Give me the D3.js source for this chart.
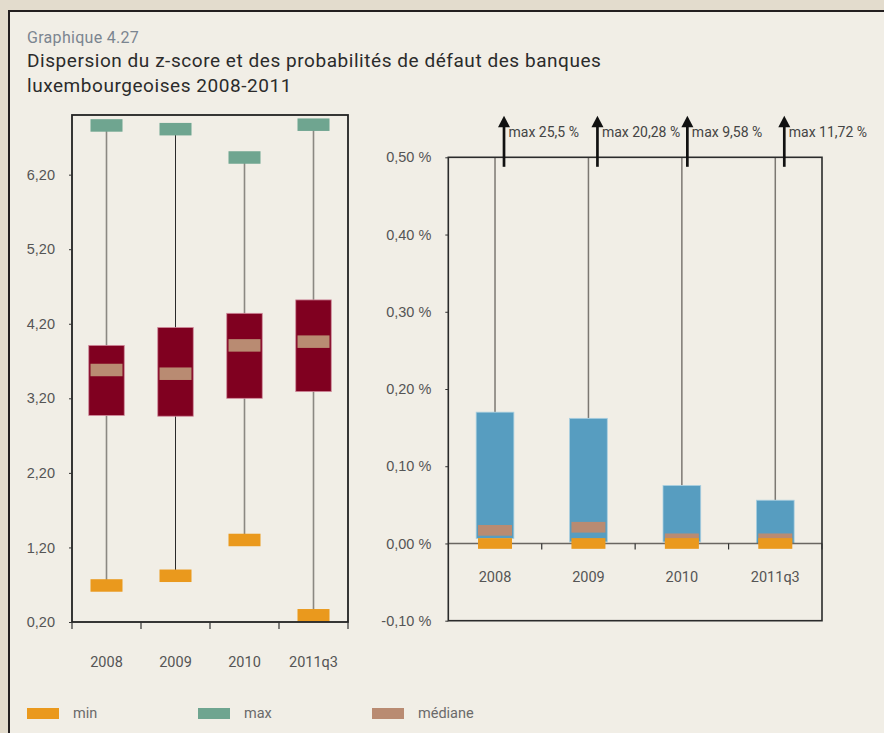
<!DOCTYPE html>
<html>
<head>
<meta charset="utf-8">
<script src="https://cdn.jsdelivr.net/npm/d3@7"></script>
<style>
  body { margin: 0; background: #e3dccd; }
  svg { display: block; font-family: Roboto, "Noto Sans", sans-serif; }
</style>
</head>
<body>
<script>
// categories
const years = ['2008', '2009', '2010', '2011q3'];

// z-score (left panel)
const zMin = [0.69, 0.82, 1.30, 0.29];
const zQ1 = [2.97, 2.96, 3.20, 3.29];
const zMed = [3.58, 3.53, 3.91, 3.96];
const zQ3 = [3.91, 4.15, 4.34, 4.52];
const zMax = [6.86, 6.81, 6.43, 6.87];
const zTicks = [0.2, 1.2, 2.2, 3.2, 4.2, 5.2, 6.2];

// probabilités de défaut, en % (right panel)
const pdMin = [0, 0, 0, 0];
const pdQ1 = [0.0065, 0.002, 0.002, 0];
const pdMed = [0.017, 0.021, 0.006, 0.006];
const pdQ3 = [0.170, 0.162, 0.075, 0.056];
const pdMax = [25.5, 20.28, 9.58, 11.72];
const pdTicks = [-0.1, 0, 0.1, 0.2, 0.3, 0.4, 0.5];

const legendItems = ['min', 'max', 'médiane'];

const col = {
  min: '#ea991d',
  max: '#6fa590',
  med: '#b98b72',
  box: '#800020',
  pd: '#579dc0',
  text: '#555'
};

const fr = d3.formatLocale({decimal: ',', thousands: ' ', grouping: [3], currency: ['', ' €'], minus: '-'});
const f2 = fr.format('.2f');
const fTrim = fr.format('~');

const W = 884, H = 733;
const svg = d3.select('body').append('svg')
  .attr('width', W)
  .attr('height', H);

svg.append('rect').attr('width', W).attr('height', H).attr('fill', '#e3dccd');
svg.append('rect')
  .attr('x', 9).attr('y', 11)
  .attr('width', W + 20).attr('height', H + 20)
  .attr('fill', '#f1eee6')
  .attr('stroke', '#231f20')
  .attr('stroke-width', 2);

// titles
svg.append('text').attr('x', 27).attr('y', 42.5)
  .attr('font-size', 16).attr('fill', '#7b8590')
  .attr('letter-spacing', 0.3)
  .text('Graphique 4.27');
svg.append('text').attr('x', 27).attr('y', 66.5)
  .attr('font-size', 19).attr('fill', '#2b2b2b')
  .attr('letter-spacing', 0.55)
  .text('Dispersion du z-score et des probabilités de défaut des banques');
svg.append('text').attr('x', 27).attr('y', 91.5)
  .attr('font-size', 19).attr('fill', '#2b2b2b')
  .attr('letter-spacing', 0.55)
  .text('luxembourgeoises 2008-2011');

// ---------- left panel: z-score ----------
const xL = d3.scaleBand().domain(years).range([72, 348]);
const yL = d3.scaleLinear().domain([0.2, 7.0]).range([622, 115]);
const gL = svg.append('g');

// whiskers
gL.selectAll('line.wh').data(years).join('line')
  .attr('x1', d => xL(d) + xL.bandwidth() / 2)
  .attr('x2', d => xL(d) + xL.bandwidth() / 2)
  .attr('y1', (d, i) => yL(zMax[i]))
  .attr('y2', (d, i) => yL(zMin[i]))
  .attr('stroke', (d, i) => i === 1 ? '#2a2a2a' : '#8b8882')
  .attr('stroke-width', (d, i) => i === 1 ? 1 : 1.6);

const boxW = 35.5, mkW = 32, mkH = 12.5;

gL.selectAll('rect.box').data(years).join('rect')
  .attr('x', d => xL(d) + xL.bandwidth() / 2 - boxW / 2)
  .attr('width', boxW)
  .attr('y', (d, i) => yL(zQ3[i]))
  .attr('height', (d, i) => yL(zQ1[i]) - yL(zQ3[i]))
  .attr('fill', col.box)
  .attr('stroke', '#d08a9c').attr('stroke-width', 0.8);

function markers(g, x, y, vals, color, w, h) {
  g.append('g').selectAll('rect').data(years).join('rect')
    .attr('x', d => x(d) + x.bandwidth() / 2 - w / 2)
    .attr('width', w)
    .attr('y', (d, i) => y(vals[i]) - h / 2)
    .attr('height', h)
    .attr('fill', color);
}
markers(gL, xL, yL, zMed, col.med, mkW, mkH);
markers(gL, xL, yL, zMax, col.max, mkW, mkH);
markers(gL, xL, yL, zMin, col.min, mkW, mkH);

// frame + axes
gL.append('rect')
  .attr('x', 72).attr('y', 115).attr('width', 276).attr('height', 507)
  .attr('fill', 'none').attr('stroke', '#222').attr('stroke-width', 1.8);

const axL = gL.append('g').attr('transform', 'translate(72,0)')
  .call(d3.axisLeft(yL).tickValues(zTicks).tickSize(3).tickPadding(14).tickFormat(f2));
axL.select('.domain').remove();
axL.selectAll('line').attr('stroke', '#333');
axL.selectAll('text').attr('font-size', 14.5).attr('fill', col.text).attr('font-family', null);

gL.selectAll('line.xt').data(years.concat(['end'])).join('line')
  .attr('x1', (d, i) => 72 + i * xL.step())
  .attr('x2', (d, i) => 72 + i * xL.step())
  .attr('y1', 622).attr('y2', 629)
  .attr('stroke', '#333').attr('stroke-width', 1.2);

gL.selectAll('text.cat').data(years).join('text')
  .attr('x', d => xL(d) + xL.bandwidth() / 2)
  .attr('y', 667)
  .attr('text-anchor', 'middle')
  .attr('font-size', 14.5).attr('fill', col.text)
  .text(d => d);

// ---------- right panel: PD ----------
const xR = d3.scaleBand().domain(years).range([448.3, 822]);
const yR = d3.scaleLinear().domain([-0.1, 0.5]).range([620.7, 157.3]);
const gR = svg.append('g');

gR.selectAll('line.wh').data(years).join('line')
  .attr('x1', d => xR(d) + xR.bandwidth() / 2)
  .attr('x2', d => xR(d) + xR.bandwidth() / 2)
  .attr('y1', (d, i) => yR(Math.min(pdMax[i], 0.5)))
  .attr('y2', (d, i) => yR(pdQ3[i]))
  .attr('stroke', '#7c7872').attr('stroke-width', 1.5);

const boxWR = 37.7, mkWR = 34, mkHR = 10.7;
gR.selectAll('rect.box').data(years).join('rect')
  .attr('x', d => xR(d) + xR.bandwidth() / 2 - boxWR / 2)
  .attr('width', boxWR)
  .attr('y', (d, i) => yR(pdQ3[i]))
  .attr('height', (d, i) => yR(pdQ1[i]) - yR(pdQ3[i]))
  .attr('fill', col.pd)
  .attr('stroke', '#a9cfe0').attr('stroke-width', 0.8);

// zero line
gR.append('line')
  .attr('x1', 448.3).attr('x2', 822)
  .attr('y1', yR(0)).attr('y2', yR(0))
  .attr('stroke', '#6a6661').attr('stroke-width', 1.5);

markers(gR, xR, yR, pdMed, col.med, mkWR, mkHR);
markers(gR, xR, yR, pdMin, col.min, mkWR, mkHR);

gR.append('rect')
  .attr('x', 448.3).attr('y', 157.3).attr('width', 822 - 448.3).attr('height', 620.7 - 157.3)
  .attr('fill', 'none').attr('stroke', '#2b2b2b').attr('stroke-width', 1.6);

const axR = gR.append('g').attr('transform', 'translate(448.3,0)')
  .call(d3.axisLeft(yR).tickValues(pdTicks).tickSize(3).tickPadding(14).tickFormat(d => f2(d) + ' %'));
axR.select('.domain').remove();
axR.selectAll('line').attr('stroke', '#333');
axR.selectAll('text').attr('font-size', 14.5).attr('fill', col.text).attr('font-family', null);

gR.selectAll('line.xt').data(years.slice(1).concat(['end'])).join('line')
  .attr('x1', (d, i) => 448.3 + (i + 1) * xR.step())
  .attr('x2', (d, i) => 448.3 + (i + 1) * xR.step())
  .attr('y1', yR(0)).attr('y2', yR(0) + 6)
  .attr('stroke', '#333').attr('stroke-width', 1.2);

gR.selectAll('text.cat').data(years).join('text')
  .attr('x', d => xR(d) + xR.bandwidth() / 2)
  .attr('y', 581.7)
  .attr('text-anchor', 'middle')
  .attr('font-size', 14.5).attr('fill', col.text)
  .text(d => d);

// max arrows (off-scale maxima)
const plotTop = yR(0.5);
const arrows = gR.append('g').selectAll('g').data(years).join('g')
  .attr('transform', (d, i) => `translate(${xR(d) + xR.bandwidth() / 2 + (i === 2 ? 5.5 : 9)},0)`);
arrows.append('line')
  .attr('y1', plotTop + 9.5).attr('y2', plotTop - 31)
  .attr('stroke', '#111').attr('stroke-width', 2.7);
arrows.append('path')
  .attr('d', `M-6,${plotTop - 30}L0,${plotTop - 41.5}L6,${plotTop - 30}Z`)
  .attr('fill', '#111');
arrows.append('text')
  .attr('x', 4.5).attr('y', plotTop - 20.6)
  .attr('font-size', 14).attr('fill', '#444')
  .text((d, i) => 'max ' + fTrim(pdMax[i]) + ' %');

// ---------- legend ----------
const legColors = [col.min, col.max, col.med];
const leg = svg.append('g').selectAll('g').data(legendItems).join('g')
  .attr('transform', (d, i) => `translate(${[27, 198, 372][i]},708)`);
leg.append('rect').attr('width', 32).attr('height', 11).attr('fill', (d, i) => legColors[i]);
leg.append('text').attr('x', 46).attr('y', 10)
  .attr('font-size', 14.5).attr('fill', '#6a6a6a')
  .text(d => d);
</script>
</body>
</html>
